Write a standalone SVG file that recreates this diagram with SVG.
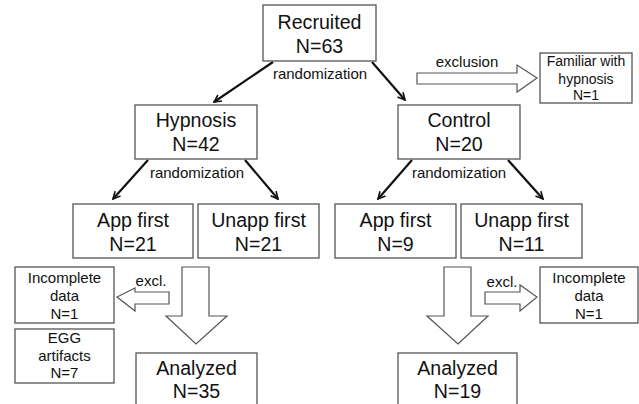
<svg xmlns="http://www.w3.org/2000/svg" width="639" height="404" viewBox="0 0 639 404">
<defs>
<style>
.box{fill:#fff;stroke:#555;stroke-width:1.3}
.big{font-family:"Liberation Sans",Arial,sans-serif;font-size:19.6px;fill:#111;text-anchor:middle}
.sm{font-family:"Liberation Sans",Arial,sans-serif;font-size:15px;fill:#111;text-anchor:middle}
.fam{font-family:"Liberation Sans",Arial,sans-serif;font-size:14px;fill:#111;text-anchor:middle}
.ln{stroke:#111;stroke-width:2.2;fill:none}
.blk{fill:#fff;stroke:#555;stroke-width:1.2}
</style>
<marker id="ah" viewBox="0 0 10 10" refX="9" refY="5" markerWidth="9" markerHeight="9" orient="auto" markerUnits="userSpaceOnUse">
<path d="M1,1 L9,5 L1,9" fill="none" stroke="#111" stroke-width="1.8"/>
</marker>
</defs>
<rect width="639" height="404" fill="#fff"/>
<g id="connectors">
<line class="ln" x1="273" y1="62" x2="214" y2="102" marker-end="url(#ah)"/>
<line class="ln" x1="372" y1="62" x2="405" y2="100" marker-end="url(#ah)"/>
<line class="ln" x1="148" y1="160" x2="113" y2="199" marker-end="url(#ah)"/>
<line class="ln" x1="245" y1="160" x2="278" y2="199" marker-end="url(#ah)"/>
<line class="ln" x1="412" y1="160" x2="378" y2="199" marker-end="url(#ah)"/>
<line class="ln" x1="508" y1="160" x2="543" y2="199" marker-end="url(#ah)"/>
<text class="sm" x="320" y="79">randomization</text>
<text class="sm" x="197" y="178">randomization</text>
<text class="sm" x="459" y="178">randomization</text>
<polygon class="blk" points="417,73 517,73 517,65 537,78 517,92 517,84 417,84"/>
<text class="sm" x="467" y="67">exclusion</text>
<polygon class="blk" points="182,267 209,267 209,316 227,316 196,344 166,316 182,316"/>
<polygon class="blk" points="444,267 471,267 471,316 488,316 458,344 427,316 444,316"/>
<polygon class="blk" points="169,292 135,292 135,288 117,297 135,311 135,304 169,304"/>
<text class="sm" x="151" y="286">excl.</text>
<polygon class="blk" points="485,292 520,292 520,285 537,297 520,311 520,304 485,304"/>
<text class="sm" x="502" y="287">excl.</text>
</g>
<g id="recruited">
<rect class="box" x="263" y="5" width="113" height="56"/>
<text class="big" x="319.5" y="29">Recruited</text>
<text class="big" x="319.5" y="53">N=63</text>
</g>
<g id="familiar">
<rect class="box" x="540" y="53" width="92" height="50"/>
<text class="fam" x="586" y="66">Familiar with</text>
<text class="fam" x="586" y="84">hypnosis</text>
<text class="fam" x="586" y="100">N=1</text>
</g>
<g id="hypnosis">
<rect class="box" x="135" y="105" width="122" height="54"/>
<text class="big" x="196" y="127">Hypnosis</text>
<text class="big" x="196" y="151">N=42</text>
</g>
<g id="control">
<rect class="box" x="398" y="105" width="122" height="54"/>
<text class="big" x="459" y="127">Control</text>
<text class="big" x="459" y="151">N=20</text>
</g>
<g id="hyp-app">
<rect class="box" x="73" y="204" width="120" height="54"/>
<text class="big" x="133" y="227">App first</text>
<text class="big" x="133" y="251">N=21</text>
</g>
<g id="hyp-unapp">
<rect class="box" x="198" y="204" width="121" height="54"/>
<text class="big" x="258.5" y="227">Unapp first</text>
<text class="big" x="258.5" y="251">N=21</text>
</g>
<g id="ctl-app">
<rect class="box" x="335" y="204" width="121" height="54"/>
<text class="big" x="395.5" y="227">App first</text>
<text class="big" x="395.5" y="251">N=9</text>
</g>
<g id="ctl-unapp">
<rect class="box" x="461" y="204" width="121" height="54"/>
<text class="big" x="521.5" y="227">Unapp first</text>
<text class="big" x="521.5" y="251">N=11</text>
</g>
<g id="hyp-incomplete">
<rect class="box" x="15" y="267" width="99" height="56"/>
<text class="sm" x="64.5" y="283">Incomplete</text>
<text class="sm" x="64.5" y="301">data</text>
<text class="sm" x="64.5" y="319">N=1</text>
</g>
<g id="hyp-egg">
<rect class="box" x="15" y="329" width="99" height="54"/>
<text class="sm" x="64.5" y="343">EGG</text>
<text class="sm" x="64.5" y="361">artifacts</text>
<text class="sm" x="64.5" y="378">N=7</text>
</g>
<g id="ctl-incomplete">
<rect class="box" x="540" y="267" width="98" height="56"/>
<text class="sm" x="589" y="283">Incomplete</text>
<text class="sm" x="589" y="301">data</text>
<text class="sm" x="589" y="319">N=1</text>
</g>
<g id="hyp-analyzed">
<rect class="box" x="136" y="353" width="121" height="60"/>
<text class="big" x="196.5" y="375">Analyzed</text>
<text class="big" x="196.5" y="398">N=35</text>
</g>
<g id="ctl-analyzed">
<rect class="box" x="398" y="353" width="119" height="60"/>
<text class="big" x="457.5" y="375">Analyzed</text>
<text class="big" x="457.5" y="398">N=19</text>
</g>
</svg>
